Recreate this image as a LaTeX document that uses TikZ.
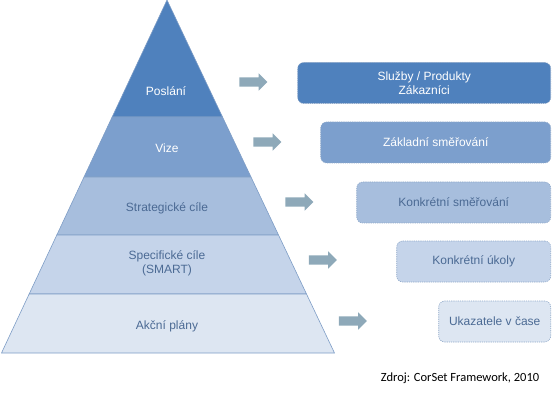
\documentclass[tikz,border=0pt]{standalone}
\usepackage{fontspec}
\setmainfont{Liberation Sans}
\newfontfamily\srcfont{Carlito}
\usetikzlibrary{calc,shapes.arrows}
\definecolor{layerone}{HTML}{4F81BD}
\definecolor{layertwo}{HTML}{7C9FCD}
\definecolor{layerthree}{HTML}{A7BEDD}
\definecolor{layerfour}{HTML}{C5D4EA}
\definecolor{layerfive}{HTML}{DDE6F2}
\definecolor{pyredge}{HTML}{7E9DC6}
\definecolor{boxedge}{HTML}{8FA8C8}
\definecolor{labelblue}{HTML}{4B6A94}
\definecolor{arrowgray}{HTML}{8EA9B9}

\begin{document}
\begin{tikzpicture}[
    x=1pt, y=-1pt,
    every node/.style={font=\fontsize{12}{14}\selectfont},
    layer/.style={draw=pyredge, line width=0.6pt},
    darktext/.style={text=labelblue},
    goalbox/.style={
        draw=boxedge,
        dash pattern=on 1.2pt off 1pt,
        line width=0.6pt,
        rounded corners=6pt,
        minimum height=41pt,
        anchor=east,
        align=center
    },
    blockarrow/.style={
        single arrow,
        fill=arrowgray,
        inner xsep=0pt,
        inner ysep=4.5pt,
        minimum height=28pt,
        minimum width=17pt,
        single arrow head extend=4pt
    }
]

\useasboundingbox (0,0) rectangle (552,393);

% pyramid
\coordinate (apex) at (167,0);
\coordinate (bl) at (1.5,353);
\coordinate (br) at (334.5,353);
\coordinate (l1) at ($(apex)!0.3314!(bl)$);
\coordinate (r1) at ($(apex)!0.3314!(br)$);
\coordinate (l2) at ($(apex)!0.5014!(bl)$);
\coordinate (r2) at ($(apex)!0.5014!(br)$);
\coordinate (l3) at ($(apex)!0.6657!(bl)$);
\coordinate (r3) at ($(apex)!0.6657!(br)$);
\coordinate (l4) at ($(apex)!0.8329!(bl)$);
\coordinate (r4) at ($(apex)!0.8329!(br)$);

\filldraw[layer, fill=layerone] (apex) -- (r1) -- (l1) -- cycle;
\filldraw[layer, fill=layertwo] (l1) -- (r1) -- (r2) -- (l2) -- cycle;
\filldraw[layer, fill=layerthree] (l2) -- (r2) -- (r3) -- (l3) -- cycle;
\filldraw[layer, fill=layerfour] (l3) -- (r3) -- (r4) -- (l4) -- cycle;
\filldraw[layer, fill=layerfive] (l4) -- (r4) -- (br) -- (bl) -- cycle;

\node[text=white] (poslani) at (166,91) {Poslání};
\node[text=white] (vize) at (167,148) {Vize};
\node[darktext] (strategicke) at (167,208) {Strategické cíle};
\node[darktext, align=center] (specificke) at (167,263) {Specifické cíle\\(SMART)};
\node[darktext] (akcni) at (167,326) {Akční plány};

% arrows
\node[blockarrow] (sipka1) at (251,82) {};
\node[blockarrow] (sipka2) at (265,142) {};
\node[blockarrow] (sipka3) at (297,202) {};
\node[blockarrow] (sipka4) at (320.5,260) {};
\node[blockarrow] (sipka5) at (350.5,321) {};

% boxes
\node[goalbox, fill=layerone, text=white, minimum width=253pt] (sluzby) at (551,83)
    {Služby / Produkty\\Zákazníci};
\node[goalbox, fill=layertwo, text=white, minimum width=230pt] (zakladni) at (551,142.5)
    {Základní směřování};
\node[goalbox, fill=layerthree, darktext, minimum width=194pt] (smerovani) at (551,202.5)
    {Konkrétní směřování};
\node[goalbox, fill=layerfour, darktext, minimum width=154pt] (ukoly) at (551,261.5)
    {Konkrétní úkoly};
\node[goalbox, fill=layerfive, darktext, minimum width=112pt] (ukazatele) at (551,321.5)
    {Ukazatele v čase};

\node[font=\srcfont\fontsize{12.5}{14}\selectfont] (zdroj) at (460,378)
    {Zdroj: CorSet Framework, 2010};

\end{tikzpicture}
\end{document}
